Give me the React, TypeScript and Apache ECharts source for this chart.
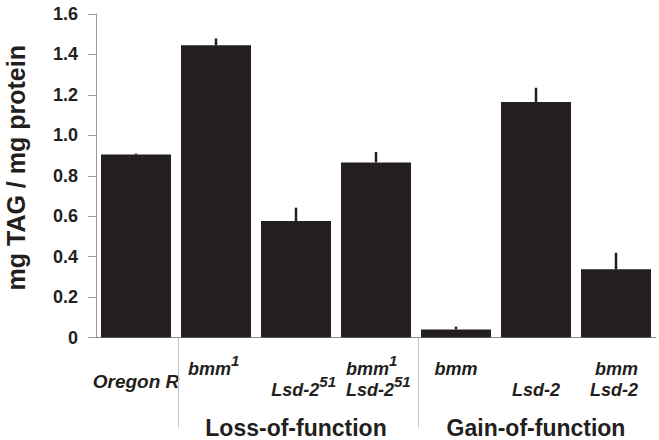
import React, { useEffect, useRef } from 'react';
import * as echarts from 'echarts';

// ---- data ----
const categories = ['Oregon R', 'bmm1', 'Lsd-2 51', 'bmm1 Lsd-2 51', 'bmm', 'Lsd-2', 'bmm Lsd-2'];
const tagValues = [0.905, 1.445, 0.576, 0.866, 0.04, 1.165, 0.337];
const tagErrors = [0.005, 0.034, 0.066, 0.051, 0.014, 0.07, 0.082];
const yMin = 0;
const yMax = 1.6;
const yInterval = 0.2;
const groupNames = ['Loss-of-function', 'Gain-of-function'];
const groupStarts = [1, 4];
const yTitle = 'mg TAG / mg protein';

const INK = '#231f20';
const FONT = '"Liberation Sans", Arial, Helvetica, sans-serif';

// rich-text label markup for each category (text content + placement)
const labelMarkup = [
  '{or|Oregon R}',
  '{p12| }{bL|bmm}{sL|1}\n{eL| }',
  '{eR| }\n{bR|Lsd-2}{sR|51}\n{grp|' + groupNames[0] + '}',
  '{p10| }{bL|bmm}{sL|1}\n{p10| }{bL|Lsd-2}{sL|51}',
  '{bC|bmm}\n{eC| }',
  '{eC| }\n{bC|Lsd-2}\n{grp|' + groupNames[1] + '}',
  '{bR|bmm}{r18| }\n{bR|Lsd-2}{r18| }',
];

const base = { fontSize: 18, fontWeight: 'bold', fontStyle: 'italic', fontFamily: FONT, color: INK, lineHeight: 21, verticalAlign: 'middle' };
const sup = { fontSize: 15, fontWeight: 'bold', fontStyle: 'italic', fontFamily: FONT, color: INK, lineHeight: 4, height: 4, verticalAlign: 'top' };
const empty = { lineHeight: 21, width: 0, fontSize: 12 };

export default function App() {
  const ref = useRef<HTMLDivElement>(null);
  useEffect(() => {
    if (!ref.current) return;
    const chart = echarts.init(ref.current, null, { renderer: 'svg' });
    chart.setOption({
      animation: false,
      backgroundColor: '#ffffff',
      grid: { left: 96, right: 3, top: 14, bottom: 102.5, outerBoundsMode: 'none' },
      xAxis: {
        type: 'category',
        data: categories,
        axisLine: { show: true, lineStyle: { color: '#8c8c8c', width: 1 } },
        axisTick: { show: false },
        axisLabel: {
          interval: 0,
          margin: 21,
          width: 80,
          overflow: 'none',
          hideOverlap: false,
          formatter: (_v: string, i: number) => labelMarkup[i],
          rich: {
            bL: { ...base, align: 'left' },
            bR: { ...base, align: 'right' },
            bC: { ...base, align: 'center' },
            sL: { ...sup, align: 'left' },
            sR: { ...sup, align: 'right' },
            eL: { ...empty, align: 'left' },
            eR: { ...empty, align: 'right' },
            eC: { ...empty, align: 'center' },
            p12: { width: 12, lineHeight: 12, align: 'left' },
            p10: { width: 10, lineHeight: 12, align: 'left' },
            r18: { width: 18, lineHeight: 12, align: 'right' },
            grp: { fontSize: 23, fontWeight: 'bold', fontStyle: 'normal', fontFamily: FONT, color: INK, lineHeight: 54, align: 'center', verticalAlign: 'middle' },
            or: { fontSize: 19, fontWeight: 'bold', fontStyle: 'italic', fontFamily: FONT, color: INK, lineHeight: 46, align: 'center', verticalAlign: 'middle' },
          },
        },
      },
      yAxis: {
        type: 'value',
        min: yMin,
        max: yMax,
        interval: yInterval,
        name: yTitle,
        nameLocation: 'middle',
        nameRotate: 90,
        nameGap: 68,
        nameMoveOverlap: false,
        nameTextStyle: { fontSize: 25, fontWeight: 'bold', fontFamily: FONT, color: INK, padding: [0, 0, 0, 16] },
        axisLine: { show: true, lineStyle: { color: '#9a9a9a', width: 1 } },
        axisTick: { show: true, length: 8, inside: false, lineStyle: { color: '#9a9a9a', width: 1 } },
        splitLine: { show: false },
        axisLabel: {
          margin: 18,
          fontSize: 18,
          fontWeight: 'bold',
          fontFamily: FONT,
          color: INK,
          formatter: (v: number) => (v === 0 ? '0' : v.toFixed(1)),
        },
      },
      series: [
        {
          type: 'bar',
          data: tagValues,
          barWidth: 70,
          itemStyle: { color: INK },
          z: 2,
        },
        {
          type: 'custom',
          data: tagValues.map((v, i) => [i, v, v + tagErrors[i]]),
          encode: { x: 0, y: 1 },
          z: 3,
          renderItem: (_p: any, api: any) => {
            const a = api.coord([api.value(0), api.value(1)]);
            const b = api.coord([api.value(0), api.value(2)]);
            return {
              type: 'line',
              shape: { x1: a[0], y1: a[1], x2: b[0], y2: b[1] },
              style: { stroke: INK, lineWidth: 2.5 },
            };
          },
        },
        {
          type: 'custom',
          data: groupStarts.map((i) => [i, 0]),
          encode: { x: 0, y: 1 },
          clip: false,
          silent: true,
          renderItem: (_p: any, api: any) => {
            const c = api.coord([api.value(0), 0]);
            const band = api.size([1, 0])[0];
            const x = Math.round(c[0] - band / 2) + 2.5;
            return {
              type: 'line',
              shape: { x1: x, y1: c[1], x2: x, y2: c[1] + 90 },
              style: { stroke: '#c4c4c4', lineWidth: 1 },
            };
          },
        },
      ],
    });
    return () => chart.dispose();
  }, []);
  return <div ref={ref} style={{ position: 'fixed', left: 0, top: 0, width: 659, height: 440 }} />;
}
